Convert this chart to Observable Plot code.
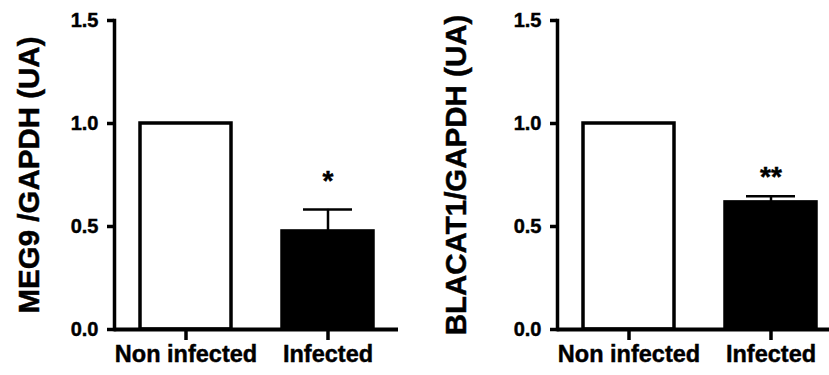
<!DOCTYPE html>
<html>
<head>
<meta charset="utf-8">
<script src="https://cdn.jsdelivr.net/npm/d3@7"></script>
<script src="https://cdn.jsdelivr.net/npm/@observablehq/plot@0.6"></script>
<style>
  html, body { margin: 0; padding: 0; background: #fff; }
  #wrap { display: flex; flex-direction: row; width: 829px; height: 375px; overflow: hidden; }
  #wrap svg { font-family: "Liberation Sans", Arial, sans-serif; font-weight: bold; }
  #wrap svg text { stroke: black; stroke-width: 0.45px; }
</style>
</head>
<body>
<div id="wrap"></div>
<script>
// ---- data ----
const categories = ["Non infected", "Infected"];
const meg9Values = [1.0, 0.476];
const meg9Err = [0, 0.107];
const meg9Sig = ["", "*"];
const blacatValues = [1.0, 0.617];
const blacatErr = [0, 0.03];
const blacatSig = ["", "**"];
const yTicks = [0, 0.5, 1.0, 1.5];
const fills = ["white", "black"];

function rows(values, errs, sig) {
  return categories.map((c, i) => ({cat: c, value: values[i], err: errs[i], sig: sig[i], fill: fills[i]}));
}

function chart({data, title, width, marginLeft, marginRight, xRange, labelOffset, starDy}) {
  const withErr = data.filter(d => d.err > 0);
  return Plot.plot({
    width, height: 375,
    marginTop: 20, marginBottom: 46, marginLeft, marginRight,
    style: {fontFamily: '"Liberation Sans", Arial, sans-serif', fontWeight: "bold", background: "white", overflow: "visible"},
    x: Object.assign({domain: categories, paddingInner: 0.36, paddingOuter: 0.18}, xRange ? {range: xRange} : {}),
    y: {domain: [0, 1.5]},
    marks: [
      Plot.barY(data, {x: "cat", y: "value", fill: "fill", stroke: "black", strokeWidth: 3.5}),
      Plot.ruleX(withErr, {x: "cat", y1: "value", y2: d => d.value + d.err, stroke: "black", strokeWidth: 2.5}),
      Plot.tickY(withErr, {x: "cat", y: d => d.value + d.err, stroke: "black", strokeWidth: 2.5, insetLeft: 21, insetRight: 21}),
      Plot.text(withErr, {x: "cat", y: d => d.value + d.err, text: "sig", dy: starDy, fontSize: 28, fontWeight: "bold", fill: "black"}),
      Plot.ruleY([0], {stroke: "black", strokeWidth: 4}),
      Plot.frame({anchor: "left", stroke: "black", strokeWidth: 3.5}),
      Plot.axisY({ticks: yTicks, tickFormat: d3.format(".1f"), tickSize: 7, tickPadding: 9, strokeWidth: 3.5, fontSize: 20,
        label: title, labelAnchor: "center", labelArrow: "none", labelOffset}),
      Plot.axisX({tickSize: 11, tickPadding: 5, strokeWidth: 3.5, fontSize: 23.5, label: null})
    ]
  });
}

const left = chart({data: rows(meg9Values, meg9Err, meg9Sig), title: "MEG9 /GAPDH (UA)",
  width: 420, marginLeft: 114, marginRight: 22, labelOffset: 96, starDy: -28.5});
const right = chart({data: rows(blacatValues, blacatErr, blacatSig), title: "BLACAT1/GAPDH (UA)",
  width: 409, marginLeft: 137, marginRight: 0, xRange: [137, 421], labelOffset: 112, starDy: -19.5});

// enlarge axis titles
[left, right].forEach(svg => {
  d3.select(svg).selectAll("g[aria-label='y-axis label'] text, g[aria-label='y-axis label']").style("font-size", "29.5px");
});

document.getElementById("wrap").append(left, right);
</script>
</body>
</html>
